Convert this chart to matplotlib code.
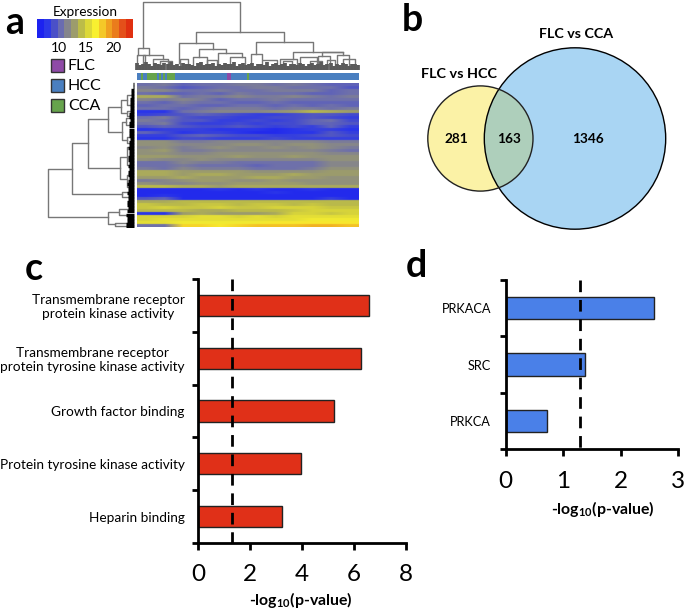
import matplotlib
matplotlib.use('Agg')
import matplotlib.pyplot as plt
from matplotlib.colors import ListedColormap, LinearSegmentedColormap
from matplotlib.patches import Circle, Rectangle
import numpy as np

plt.rcParams['font.family'] = ['Lato', 'DejaVu Sans']
plt.rcParams['mathtext.default'] = 'regular'

W, H = 685, 612

# panel a
legend_names = ['FLC', 'HCC', 'CCA']
legend_colors = ['#8e4aa6', '#4a7fc0', '#66a34c']
cbar_colors = ['#1c22f0', '#2c38e8', '#4a50c8', '#6a6cb0', '#85858c', '#9c9c6c', '#bcbc48', '#dcd838',
               '#f8f030', '#f4c828', '#f0a020', '#ea7c1c', '#e4501a', '#e03010']
cbar_ticks = [10, 15, 20]

# expression per row (top to bottom), 12 blocks of samples
heat = [
    [10, 10.5, 9.5, 10, 10, 10.5, 10.5, 10, 10.5, 10, 9.5, 9.5],
    [10.5, 10, 9, 9.5, 10, 10, 10.5, 10.5, 10, 10, 10, 9],
    [11, 11, 10, 10, 10.5, 10, 10, 10.5, 10.5, 10.5, 9.5, 10],
    [10, 9.5, 9.5, 10, 9.5, 10.5, 10, 10, 10, 9.5, 9.5, 10],
    [12.5, 12.5, 10, 10.5, 10.5, 11, 10.5, 10.5, 11, 10.5, 10, 10.5],
    [11, 10.5, 11, 10.5, 9.5, 10, 10, 10.5, 10, 10, 10, 10],
    [10, 9.5, 10.5, 10, 10, 9.5, 9.5, 10, 9.5, 9.5, 9.5, 9.5],
    [9.5, 10, 10, 9.5, 9.5, 10, 10, 9.5, 10, 9.5, 10, 9.5],
    [10, 10, 9.5, 10, 10.5, 10.5, 10.5, 10, 10.5, 10.5, 10, 10.5],
    [7.5, 7.5, 10, 10.5, 11, 11, 11, 11.5, 12, 13, 12.5, 12],
    [8, 8.5, 9, 9.5, 9, 8.5, 8, 8, 8.5, 9, 9, 8.5],
    [10, 10.5, 9, 8.5, 8.5, 8, 8, 8.5, 8.5, 9, 8.5, 8],
    [10.5, 10, 9, 9, 8, 8, 8.5, 8, 8.5, 9.5, 10, 8.5],
    [10, 10.5, 8.5, 8, 8, 8.5, 8, 8.5, 8.5, 9.5, 9.5, 9],
    [9, 9.5, 9, 8.5, 8.5, 9, 8.5, 8, 8.5, 8, 9.5, 8],
    [7.5, 8, 8, 8, 7.5, 7.5, 7.5, 7, 7.5, 8, 8, 7.5],
    [9.5, 8.5, 7.5, 8, 8, 7.5, 7, 7, 7.5, 7.5, 9, 8],
    [8, 8, 9, 9.5, 9, 8.5, 8.5, 8, 8, 8.5, 9, 8.5],
    [7.5, 7.5, 8.5, 8.5, 8, 8, 8, 8.5, 8, 8, 8, 8],
    [11.5, 11.5, 10.5, 10.5, 11, 11, 11, 11, 11, 11, 10.5, 10.5],
    [11.5, 11.5, 11, 11, 11, 11.5, 11.5, 11, 11.5, 11.5, 11, 11],
    [11, 11.5, 10.5, 11, 11.5, 11, 11, 11.5, 11, 11.5, 11, 10.5],
    [11.5, 12, 10.5, 10.5, 11, 11, 11, 11, 11, 11, 10.5, 10],
    [11.5, 11.5, 11, 11, 11.5, 11.5, 11.5, 11.5, 11.5, 11.5, 11, 11],
    [12, 12, 11.5, 11.5, 11.5, 12, 11.5, 11.5, 12, 11.5, 11.5, 11.5],
    [11.5, 11, 11, 11.5, 11, 11, 11, 11, 11, 11, 11.5, 11.5],
    [10, 10, 11, 10.5, 10.5, 10, 10, 10, 10, 10, 11, 11],
    [10, 10, 10.5, 10, 10, 10, 9.5, 10, 10, 10, 11, 11],
    [10.5, 10, 11, 10.5, 10.5, 10.5, 10, 10, 10, 10.5, 11.5, 11.5],
    [12.5, 12.5, 12, 12, 12, 12, 11.5, 11.5, 11.5, 11.5, 12, 12],
    [12.5, 12.5, 12, 12.5, 12.5, 12, 12, 12, 12.5, 12, 12, 12],
    [12, 12, 12.5, 12, 12, 12, 12.5, 12.5, 12, 12, 11.5, 11.5],
    [10.5, 11, 11.5, 12, 12, 11.5, 11.5, 12, 11.5, 11.5, 11.5, 11.5],
    [11.5, 11, 11, 11.5, 11.5, 12, 12, 12, 12, 11.5, 11.5, 11.5],
    [13, 13, 12.5, 12.5, 12, 12.5, 12.5, 12.5, 12.5, 12.5, 12.5, 12.5],
    [7, 7, 7, 7, 7.5, 7, 7.5, 7, 7, 7.5, 7, 7],
    [7, 7, 7, 7, 7, 7, 7, 7.5, 7, 7, 7, 7],
    [7, 7.5, 7, 7, 7, 7, 7, 7, 7, 7, 7, 7],
    [9, 9.5, 7, 7, 7, 7, 7, 7, 7, 7, 8, 7],
    [12.5, 12.5, 13, 13, 13, 13, 13, 13, 13, 13, 13, 13],
    [13.5, 13, 13, 13.5, 13.5, 13, 13.5, 13.5, 13, 13.5, 13, 13],
    [13.5, 14, 13.5, 13.5, 14, 13.5, 13.5, 14, 14, 14, 13.5, 13.5],
    [13, 13, 13, 12.5, 12.5, 13, 13, 13, 13.5, 14, 14, 14],
    [7.5, 7.5, 12, 12.5, 12, 12, 12, 12.5, 14, 14, 13.5, 14],
    [14, 14, 14, 14.5, 14.5, 14, 14.5, 14, 14.5, 14.5, 14.5, 14.5],
    [14, 14.5, 14.5, 14.5, 14.5, 14.5, 14.5, 14.5, 14.5, 15, 15, 15],
    [14.5, 14.5, 15, 15, 15, 15, 15, 15.5, 15.5, 15.5, 15.5, 15.5],
    [10, 10, 16, 16, 15.5, 16, 16.5, 16.5, 16.5, 17, 17, 16.5],
]

# sample strip: runs of samples left to right
strip_runs = ['HCC', 'CCA', 'HCC', 'CCA', 'HCC', 'CCA', 'HCC', 'CCA', 'HCC', 'CCA', 'HCC', 'FLC', 'HCC', 'CCA', 'HCC']
strip_sizes = [2, 1, 2, 5, 1, 1, 1, 1, 1, 4, 26, 2, 8, 1, 55]

# top dendrogram merges: both arm positions, merge height, height of the two children
top_a = [40, 25, 197, 147, 208, 265, 190, 377, 362, 488, 575, 450, 563, 622, 40, 70, 300, 395, 90, 150, 230,
         510, 460, 590, 640, 540, 20]
top_b = [330, 58, 463, 248, 288, 335, 230, 548, 395, 640, 640, 500, 600, 657, 100, 115, 345, 440, 125, 175, 262,
         560, 485, 615, 675, 575, 45]
top_h = [6, 143, 95, 130, 147, 160, 172, 125, 163, 155, 155, 178, 168, 165, 166, 176, 172, 180, 184, 178, 180,
         172, 184, 180, 178, 182, 165]
top_ha = [143, 165, 130, 190, 172, 190, 198, 163, 198, 178, 168, 198, 198, 198, 198, 198, 198, 198, 198, 198, 198,
          198, 198, 198, 198, 198, 198]
top_hb = [95, 166, 125, 147, 160, 172, 198, 155, 178, 155, 165, 198, 198, 198, 176, 198, 198, 198, 198, 198, 198,
          198, 198, 198, 198, 198, 198]
top_leaf_heights = [6, 3, 5, 7, 4, 2, 6, 5, 3, 6, 4, 7, 3, 5, 2, 6, 4, 5, 3, 2, 6, 7, 3, 5, 4, 6, 2, 5, 3, 6, 4,
                    5, 7, 2, 4, 6, 3, 5, 6, 2, 4, 5, 3, 7, 2, 5, 6, 3, 4, 6, 2, 5, 4, 3, 6, 5, 2, 4, 6, 3, 5, 7,
                    3, 4, 6, 2, 5, 3, 6, 4, 2, 5, 4, 3]

# left dendrogram merges: bar position, both arm rows, position of the two children
left_h = [25, 97, 144, 204, 205, 242, 247, 240, 245, 238, 225, 262, 262, 258, 262, 262, 260]
left_ya = [267, 190, 117, 80, 395, 60, 125, 230, 335, 388, 428, 45, 92, 115, 170, 200, 285]
left_yb = [412, 343, 265, 155, 433, 100, 180, 297, 352, 405, 438, 75, 108, 135, 190, 255, 320]
left_xa = [97, 144, 204, 242, 238, 262, 258, 262, 272, 272, 272, 272, 275, 270, 272, 270, 272]
left_xb = [205, 245, 240, 247, 225, 262, 262, 260, 272, 272, 272, 272, 275, 270, 272, 270, 272]
left_leaf_lengths = [1, 1, 2, 2, 2, 3, 3, 3, 3, 3, 4, 4, 3, 4, 4, 4, 4, 4, 3, 4, 4, 5, 4, 4, 5, 5, 4, 5, 4, 5, 5, 4,
                     5, 6, 5, 5, 6, 5, 5, 6, 6, 5, 6, 7, 6, 6, 7, 7]

# panel b
venn_names = ['FLC vs HCC', 'FLC vs CCA']
venn_counts = [281, 163, 1346]

# panel c
go_terms = ['Transmembrane receptor\nprotein kinase activity', 'Transmembrane receptor\nprotein tyrosine kinase activity',
            'Growth factor binding', 'Protein tyrosine kinase activity', 'Heparin binding']
go_values = [6.6, 6.28, 5.25, 3.96, 3.22]
go_ticks = [0, 2, 4, 6, 8]

# panel d
kinases = ['PRKACA', 'SRC', 'PRKCA']
kinase_values = [2.58, 1.37, 0.72]
kinase_ticks = [0, 1, 2, 3]

threshold = 1.3


def px_axes(x0, y0, x1, y1):
    # axes placed by picture pixels, y counted from the top
    return fig.add_axes([x0 / W, 1 - y1 / H, (x1 - x0) / W, (y1 - y0) / H])


fig = plt.figure(figsize=(W / 100, H / 100), dpi=100)

# whole figure layer for text, legend and venn, in pixels
bg = px_axes(0, 0, W, H)
bg.set_xlim(0, W)
bg.set_ylim(H, 0)
bg.axis('off')
for s, x, y in [('a', 15, 23), ('b', 412, 20), ('c', 34, 269), ('d', 416, 266)]:
    bg.text(x, y, s, fontsize=27, fontweight='bold', ha='center', va='center')

# colour key
cmap = ListedColormap(cbar_colors)
cb = px_axes(37, 19, 133, 38)
cb.imshow(np.linspace(5.9, 23.7, len(cbar_colors)).reshape(1, -1), cmap=cmap, vmin=5.9, vmax=23.7,
          aspect='auto', extent=[5.9, 23.7, 0, 1])
cb.set_yticks([])
cb.set_xticks(cbar_ticks)
cb.tick_params(axis='x', length=0, pad=3, labelsize=10)
for sp in cb.spines.values():
    sp.set_visible(False)
bg.text(85, 12, 'Expression', fontsize=9.8, ha='center', va='center')

for i in range(len(legend_names)):
    y = 59 + 20 * i
    bg.add_patch(Rectangle((51, y), 13, 13, fc=legend_colors[i], ec='#333333', lw=1))
    bg.text(68, y + 6.5, legend_names[i], fontsize=11.5, ha='left', va='center')

# heatmap, smooth version of the key because the fine speckle averages out
# rows repeated so only the columns get blended, rows stay as streaks
heat_cmap = LinearSegmentedColormap.from_list('heat', cbar_colors)
hm = px_axes(137, 83, 359, 227)
hm.imshow(np.repeat(np.array(heat), 6, axis=0), cmap=heat_cmap, vmin=6.5, vmax=20.8, aspect='auto',
          interpolation='bilinear')
hm.axis('off')

# sample strip
st = px_axes(137, 73, 359, 80)
run_colors = dict(zip(legend_names, legend_colors))
start = 0
for name, n in zip(strip_runs, strip_sizes):
    st.barh(0, n, left=start, height=1, color=run_colors[name])
    start += n
st.set_xlim(0, sum(strip_sizes))
st.set_ylim(-0.5, 0.5)
st.axis('off')

td = px_axes(130, 0, 360, 72)
td.set_xlim(0, 690)
td.set_ylim(216, 0)
td.axis('off')
for a, b, h, ha, hb in zip(top_a, top_b, top_h, top_ha, top_hb):
    td.plot([a, a, b, b], [ha, h, h, hb], color='#777777', lw=1)
leaf_x = np.linspace(22, 683, len(top_leaf_heights))
td.vlines(leaf_x, 202 - np.array(top_leaf_heights) * 2.2, 210, color='#5a5a5a', lw=2.7)

# left dendrogram
ld = px_axes(40, 80, 135, 228)
ld.set_xlim(0, 285)
ld.set_ylim(444, 0)
ld.axis('off')
for h, ya, yb, xa, xb in zip(left_h, left_ya, left_yb, left_xa, left_xb):
    ld.plot([xa, h, h, xb], [ya, ya, yb, yb], color='#777777', lw=1)
leaf_y = np.linspace(12, 440, len(left_leaf_lengths))
ld.hlines(leaf_y, 281 - np.array(left_leaf_lengths) * 3.5, 281, color='black', lw=2.4)

# venn
bg.add_patch(Circle((480.4, 138.5), 52.6, fc='#fbf2a6', ec='none'))
bg.add_patch(Circle((575, 138.5), 90.7, fc='#a9d5f3', ec='none'))
both = Circle((480.4, 138.5), 52.6, fc='#aecfbb', ec='none')
bg.add_patch(both)
both.set_clip_path(Circle((575, 138.5), 90.7, transform=bg.transData))
bg.add_patch(Circle((575, 138.5), 90.7, fc='none', ec='black', lw=1))
bg.add_patch(Circle((480.4, 138.5), 52.6, fc='none', ec='#222222', lw=1))
bg.text(459, 74, venn_names[0], fontsize=10.4, fontweight='bold', ha='center', va='center')
bg.text(576, 34, venn_names[1], fontsize=10.3, fontweight='bold', ha='center', va='center')
for x, c in zip([456, 509, 588], venn_counts):
    bg.text(x, 139, str(c), fontsize=9.8, fontweight='bold', ha='center', va='center')


def bar_panel(ax, labels, values, ticks, color, labelsize, pad, xpad):
    n = len(values)
    ax.barh(range(n), values, height=0.4, color=color, edgecolor='#222222', lw=1)
    ax.plot([threshold, threshold], [-0.5, n - 0.5], color='black', lw=2, dashes=(4.2, 2.8))
    ax.set_xlim(ticks[0], ticks[-1])
    ax.set_ylim(n - 0.5, -0.5)
    ax.set_xticks(ticks)
    ax.set_yticks(range(n), labels, multialignment='center')
    ax.set_yticks(np.arange(n + 1) - 0.5, minor=True)
    ax.tick_params(axis='y', which='major', length=0, pad=pad, labelsize=labelsize)
    ax.tick_params(axis='y', which='minor', length=4, width=2)
    ax.tick_params(axis='x', length=5, width=2, pad=xpad, labelsize=17.5)
    for s in ['top', 'right']:
        ax.spines[s].set_visible(False)
    for s in ['left', 'bottom']:
        ax.spines[s].set_linewidth(2)


axc = px_axes(198.3, 279, 405.7, 543)
bar_panel(axc, go_terms, go_values, go_ticks, '#e03018', 9.8, 10, 10)
axd = px_axes(505.7, 280, 678.3, 449)
bar_panel(axd, kinases, kinase_values, kinase_ticks, '#4a80e8', 9.2, 10.5, 11)

xlabel = '-log$_{10}$(p-value)'
bg.text(301, 600, xlabel, fontsize=11.4, fontweight='bold', ha='center', va='center')
bg.text(602.5, 509, xlabel, fontsize=11.4, fontweight='bold', ha='center', va='center')

fig.savefig('out.png', dpi=100, facecolor='white')
